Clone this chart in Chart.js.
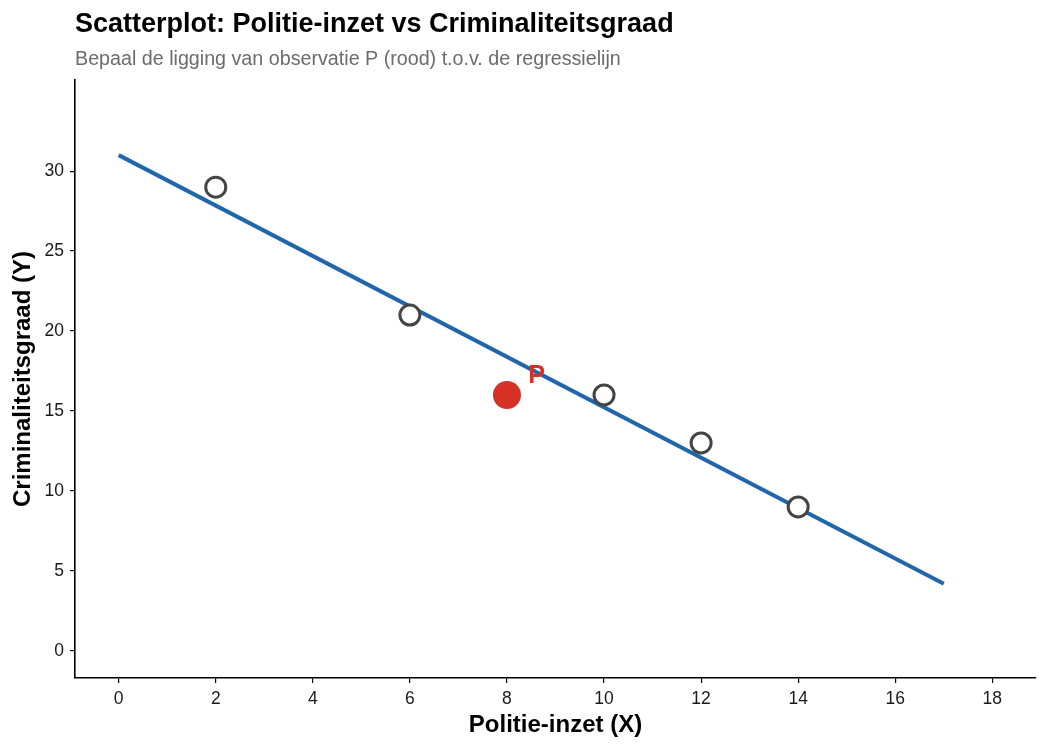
<!DOCTYPE html>
<html>
<head>
<meta charset="utf-8">
<script src="https://cdn.jsdelivr.net/npm/chart.js@4.4.1/dist/chart.umd.min.js"></script>
<style>
  html, body { margin: 0; padding: 0; background: #fff; }
  #wrap { width: 1050px; height: 750px; position: relative; }
</style>
</head>
<body>
<div id="wrap"><canvas id="chart"></canvas></div>
<script>
// observations (open circles)
const obsX = [2, 6, 10, 12, 14];
const obsY = [29, 21, 16, 13, 9];

// observation P (red)
const pX = [8];
const pY = [16];
const pLabel = ["P"];
const pLabelX = [8.44];
const pLabelY = [17.2];

// regression line end points
const lineX = [0, 17];
const lineY = [31.0, 4.2];

// axes
const xTicks = [0, 2, 4, 6, 8, 10, 12, 14, 16, 18];
const yTicks = [0, 5, 10, 15, 20, 25, 30];
const xRange = [-0.9, 18.9];
const yRange = [-1.7, 35.7];

const FONT = "'Liberation Sans', Arial, sans-serif";

// title + subtitle + "P" label
const textPlugin = {
  id: "texts",
  afterDatasetsDraw(chart) {
    const ctx = chart.ctx;
    const xs = chart.scales.x, ys = chart.scales.y;
    ctx.save();
    ctx.fillStyle = "#D73027";
    ctx.font = "bold 25px " + FONT;
    ctx.textAlign = "left";
    ctx.textBaseline = "middle";
    pLabel.forEach((t, i) => {
      ctx.fillText(t, xs.getPixelForValue(pLabelX[i]), ys.getPixelForValue(pLabelY[i]));
    });
    ctx.restore();
  },
  afterDraw(chart) {
    const ctx = chart.ctx;
    ctx.save();
    ctx.textAlign = "left";
    ctx.textBaseline = "alphabetic";
    ctx.fillStyle = "#000";
    ctx.font = "bold 27px " + FONT;
    ctx.fillText("Scatterplot: Politie-inzet vs Criminaliteitsgraad", 75, 32);
    ctx.fillStyle = "#6b6b6b";
    ctx.font = "19.7px " + FONT;
    ctx.fillText("Bepaal de ligging van observatie P (rood) t.o.v. de regressielijn", 75, 65);
    ctx.restore();
  }
};

const axisCommon = {
  type: "linear",
  grid: { display: true, drawOnChartArea: false, drawTicks: true, tickLength: 5, color: "#000", lineWidth: 1.2 },
  border: { display: true, color: "#000", width: 1.6 },
  ticks: { color: "#1a1a1a", font: { family: FONT, size: 17.5 }, padding: 6 }
};

new Chart(document.getElementById("chart"), {
  type: "scatter",
  data: {
    datasets: [
      {
        type: "line",
        data: lineX.map((x, i) => ({ x: x, y: lineY[i] })),
        borderColor: "#2166AC",
        borderWidth: 4,
        pointRadius: 0,
        fill: false,
        order: 3
      },
      {
        data: obsX.map((x, i) => ({ x: x, y: obsY[i] })),
        backgroundColor: "#fff",
        borderColor: "#444",
        borderWidth: 3,
        pointRadius: 10,
        order: 2
      },
      {
        data: pX.map((x, i) => ({ x: x, y: pY[i] })),
        backgroundColor: "#D73027",
        borderColor: "#D73027",
        borderWidth: 0,
        pointRadius: 14,
        order: 1
      }
    ]
  },
  options: {
    responsive: true,
    maintainAspectRatio: false,
    animation: false,
    layout: { padding: { top: 80, right: 13, left: 0, bottom: 0 } },
    plugins: { legend: { display: false }, tooltip: { enabled: false } },
    scales: {
      x: {
        ...axisCommon,
        min: xRange[0],
        max: xRange[1],
        afterBuildTicks: s => { s.ticks = xTicks.map(v => ({ value: v })); },
        afterFit: s => { s.height = 72; },
        title: { display: true, text: "Politie-inzet (X)", color: "#000", font: { family: FONT, size: 24, weight: "bold" }, padding: { top: 0, bottom: 10 } }
      },
      y: {
        ...axisCommon,
        min: yRange[0],
        max: yRange[1],
        afterBuildTicks: s => { s.ticks = yTicks.map(v => ({ value: v })); },
        afterFit: s => { s.width = 75; },
        title: { display: true, text: "Criminaliteitsgraad (Y)", color: "#000", font: { family: FONT, size: 24, weight: "bold" }, padding: { top: 9, bottom: 0 } }
      }
    }
  },
  plugins: [textPlugin]
});
</script>
</body>
</html>
